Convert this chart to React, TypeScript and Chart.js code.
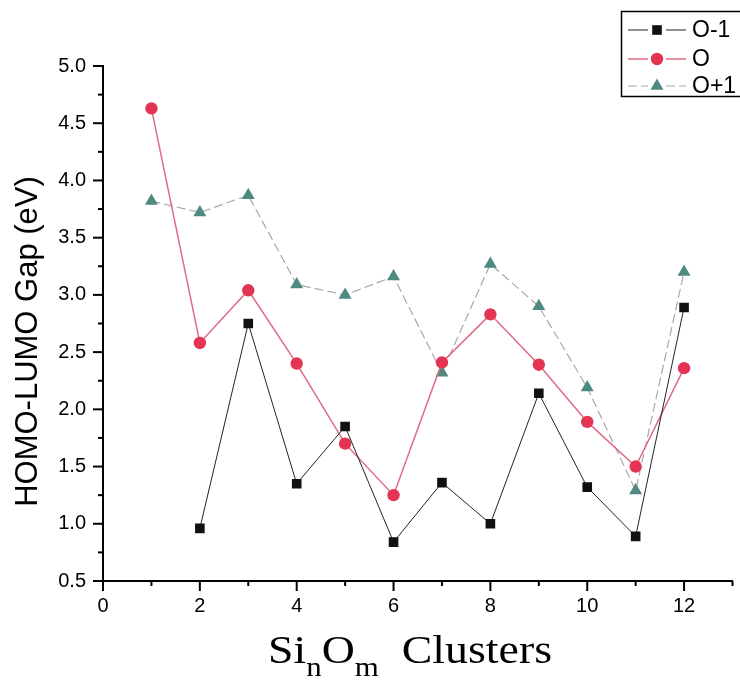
import React, { useEffect, useRef } from "react";
import { Chart, registerables } from "chart.js";
import { drawPoint } from "chart.js/helpers";

Chart.register(...registerables);

const clusters = [1, 2, 3, 4, 5, 6, 7, 8, 9, 10, 11, 12];
const oMinus1 = [null, 0.96, 2.75, 1.35, 1.85, 0.84, 1.36, 1.0, 2.14, 1.32, 0.89, 2.89];
const oZero = [4.63, 2.58, 3.04, 2.4, 1.7, 1.25, 2.41, 2.83, 2.39, 1.89, 1.5, 2.36];
const oPlus1 = [3.82, 3.72, 3.87, 3.09, 3.0, 3.16, 2.32, 3.27, 2.9, 2.19, 1.29, 3.2];
const seriesLabels = ["O-1", "O", "O+1"];
const xTickLabels = ["0", "2", "4", "6", "8", "10", "12"];
const yTickLabels = ["0.5", "1.0", "1.5", "2.0", "2.5", "3.0", "3.5", "4.0", "4.5", "5.0"];
const yTitle = "HOMO-LUMO Gap (eV)";

const SANS = "'Liberation Sans', Arial, sans-serif";
const SERIF = "'Liberation Serif', 'Times New Roman', serif";

const toPoints = (vals: (number | null)[]) =>
  clusters.map((c, i) => ({ x: c, y: vals[i] })).filter((p) => p.y !== null);

const ticksPlugin = {
  id: "minorTicks",
  afterDraw(chart: any) {
    const ctx = chart.ctx;
    const xs = chart.scales.x;
    const ys = chart.scales.y;
    ctx.save();
    ctx.strokeStyle = "#000";
    ctx.lineWidth = 2;
    for (let v = 0; v <= 13; v++) {
      const px = xs.getPixelForValue(v);
      const len = v % 2 === 0 ? 10 : 5;
      ctx.beginPath();
      ctx.moveTo(px, xs.top);
      ctx.lineTo(px, xs.top + len);
      ctx.stroke();
    }
    for (let k = 0; k <= 18; k++) {
      const v = 0.5 + k * 0.25;
      const py = ys.getPixelForValue(v);
      const len = k % 2 === 0 ? 10 : 5;
      ctx.beginPath();
      ctx.moveTo(ys.right, py);
      ctx.lineTo(ys.right - len, py);
      ctx.stroke();
    }
    ctx.restore();
  },
};

const titlesPlugin = {
  id: "titles",
  afterDraw(chart: any) {
    const ctx = chart.ctx;
    const area = chart.chartArea;
    ctx.save();
    ctx.fillStyle = "#000";
    ctx.font = `31px ${SANS}`;
    ctx.textAlign = "center";
    ctx.textBaseline = "middle";
    ctx.translate(28, (area.top + area.bottom) / 2 + 18);
    ctx.rotate(-Math.PI / 2);
    ctx.fillText(yTitle, 0, 0);
    ctx.restore();

    ctx.save();
    const parts = [
      { t: "Si", sub: false },
      { t: "n", sub: true },
      { t: "O", sub: false },
      { t: "m", sub: true },
      { t: "  Clusters", sub: false },
    ];
    const mainFont = `40px ${SERIF}`;
    const subFont = `27px ${SERIF}`;
    let w = 0;
    parts.forEach((p) => {
      ctx.font = p.sub ? subFont : mainFont;
      w += ctx.measureText(p.t).width;
    });
    const targetW = 284;
    const sx = targetW / w;
    const startX = 268;
    const baseY = 663;
    ctx.translate(startX, baseY);
    ctx.scale(sx, 1);
    ctx.textAlign = "left";
    ctx.textBaseline = "alphabetic";
    ctx.fillStyle = "#000";
    let cx = 0;
    parts.forEach((p) => {
      ctx.font = p.sub ? subFont : mainFont;
      ctx.fillText(p.t, cx, p.sub ? 13 : 0);
      cx += ctx.measureText(p.t).width;
    });
    ctx.restore();
  },
};

const legendPlugin = {
  id: "boxLegend",
  afterDraw(chart: any) {
    const ctx = chart.ctx;
    ctx.save();
    ctx.fillStyle = "#fff";
    ctx.fillRect(621, 11, 130, 85);
    ctx.strokeStyle = "#000";
    ctx.lineWidth = 1.5;
    ctx.strokeRect(621.5, 11.5, 130, 85);
    const rows = [30, 59, 86];
    chart.data.datasets.forEach((ds: any, i: number) => {
      const y = rows[i];
      ctx.save();
      ctx.strokeStyle = ds.borderColor;
      ctx.lineWidth = ds.borderWidth;
      ctx.setLineDash(ds.borderDash || []);
      ctx.beginPath();
      ctx.moveTo(628, y);
      ctx.lineTo(648, y);
      ctx.moveTo(666, y);
      ctx.lineTo(686, y);
      ctx.stroke();
      ctx.setLineDash([]);
      ctx.fillStyle = ds.pointBackgroundColor;
      ctx.strokeStyle = ds.pointBorderColor;
      drawPoint(
        ctx,
        { pointStyle: ds.pointStyle, radius: ds.pointRadius, rotation: 0, borderWidth: ds.pointBorderWidth },
        657,
        y
      );
      ctx.restore();
      ctx.fillStyle = "#000";
      ctx.font = `23px ${SANS}`;
      ctx.textAlign = "left";
      ctx.textBaseline = "middle";
      ctx.fillText(ds.label, 692, y + 1);
    });
    ctx.restore();
  },
};

export default function App() {
  const ref = useRef<HTMLCanvasElement | null>(null);
  useEffect(() => {
    if (!ref.current) return;
    const chart = new Chart(ref.current, {
      type: "line",
      data: {
        datasets: [
          {
            label: seriesLabels[0],
            data: toPoints(oMinus1),
            borderColor: "#222222",
            borderWidth: 1,
            pointStyle: "rect",
            pointRadius: 6.8,
            pointBackgroundColor: "#111111",
            pointBorderColor: "#111111",
            pointBorderWidth: 0,
          },
          {
            label: seriesLabels[1],
            data: toPoints(oZero),
            borderColor: "#df6b80",
            borderWidth: 1.5,
            pointStyle: "circle",
            pointRadius: 6.2,
            pointBackgroundColor: "#e33553",
            pointBorderColor: "#e33553",
            pointBorderWidth: 0,
          },
          {
            label: seriesLabels[2],
            data: toPoints(oPlus1),
            borderColor: "#a8a8a8",
            borderWidth: 1.2,
            borderDash: [9, 4],
            pointStyle: "triangle",
            pointRadius: 7.5,
            pointBackgroundColor: "#4f8a80",
            pointBorderColor: "#4f8a80",
            pointBorderWidth: 0,
          },
        ] as any,
      },
      options: {
        animation: false,
        responsive: false,
        devicePixelRatio: 1,
        layout: { padding: { top: 66, left: 0, right: 0, bottom: 0 } },
        plugins: { legend: { display: false }, tooltip: { enabled: false } },
        scales: {
          x: {
            type: "linear",
            min: 0,
            max: 13,
            afterFit: (s: any) => {
              s.height = 103;
            },
            afterBuildTicks: (s: any) => {
              s.ticks = xTickLabels.map((t) => ({ value: Number(t) }));
            },
            grid: { display: false, drawTicks: false },
            border: { display: true, color: "#000", width: 2 },
            ticks: {
              padding: 13,
              autoSkip: false,
              maxRotation: 0,
              color: "#000",
              font: { family: SANS, size: 20 },
              callback: (v: any) => String(v),
            },
          },
          y: {
            type: "linear",
            min: 0.5,
            max: 5.0,
            afterFit: (s: any) => {
              s.width = 103;
            },
            afterBuildTicks: (s: any) => {
              s.ticks = yTickLabels.map((t) => ({ value: Number(t) }));
            },
            grid: { display: false, drawTicks: false },
            border: { display: true, color: "#000", width: 2 },
            ticks: {
              padding: 17,
              autoSkip: false,
              color: "#000",
              font: { family: SANS, size: 20 },
              callback: (v: any) => Number(v).toFixed(1),
            },
          },
        },
      },
      plugins: [ticksPlugin, titlesPlugin, legendPlugin],
    });
    return () => chart.destroy();
  }, []);
  return (
    <div style={{ position: "fixed", left: 0, top: 0, width: 740, height: 684, background: "#fff" }}>
      <canvas ref={ref} width={740} height={684} style={{ display: "block" }} />
    </div>
  );
}
